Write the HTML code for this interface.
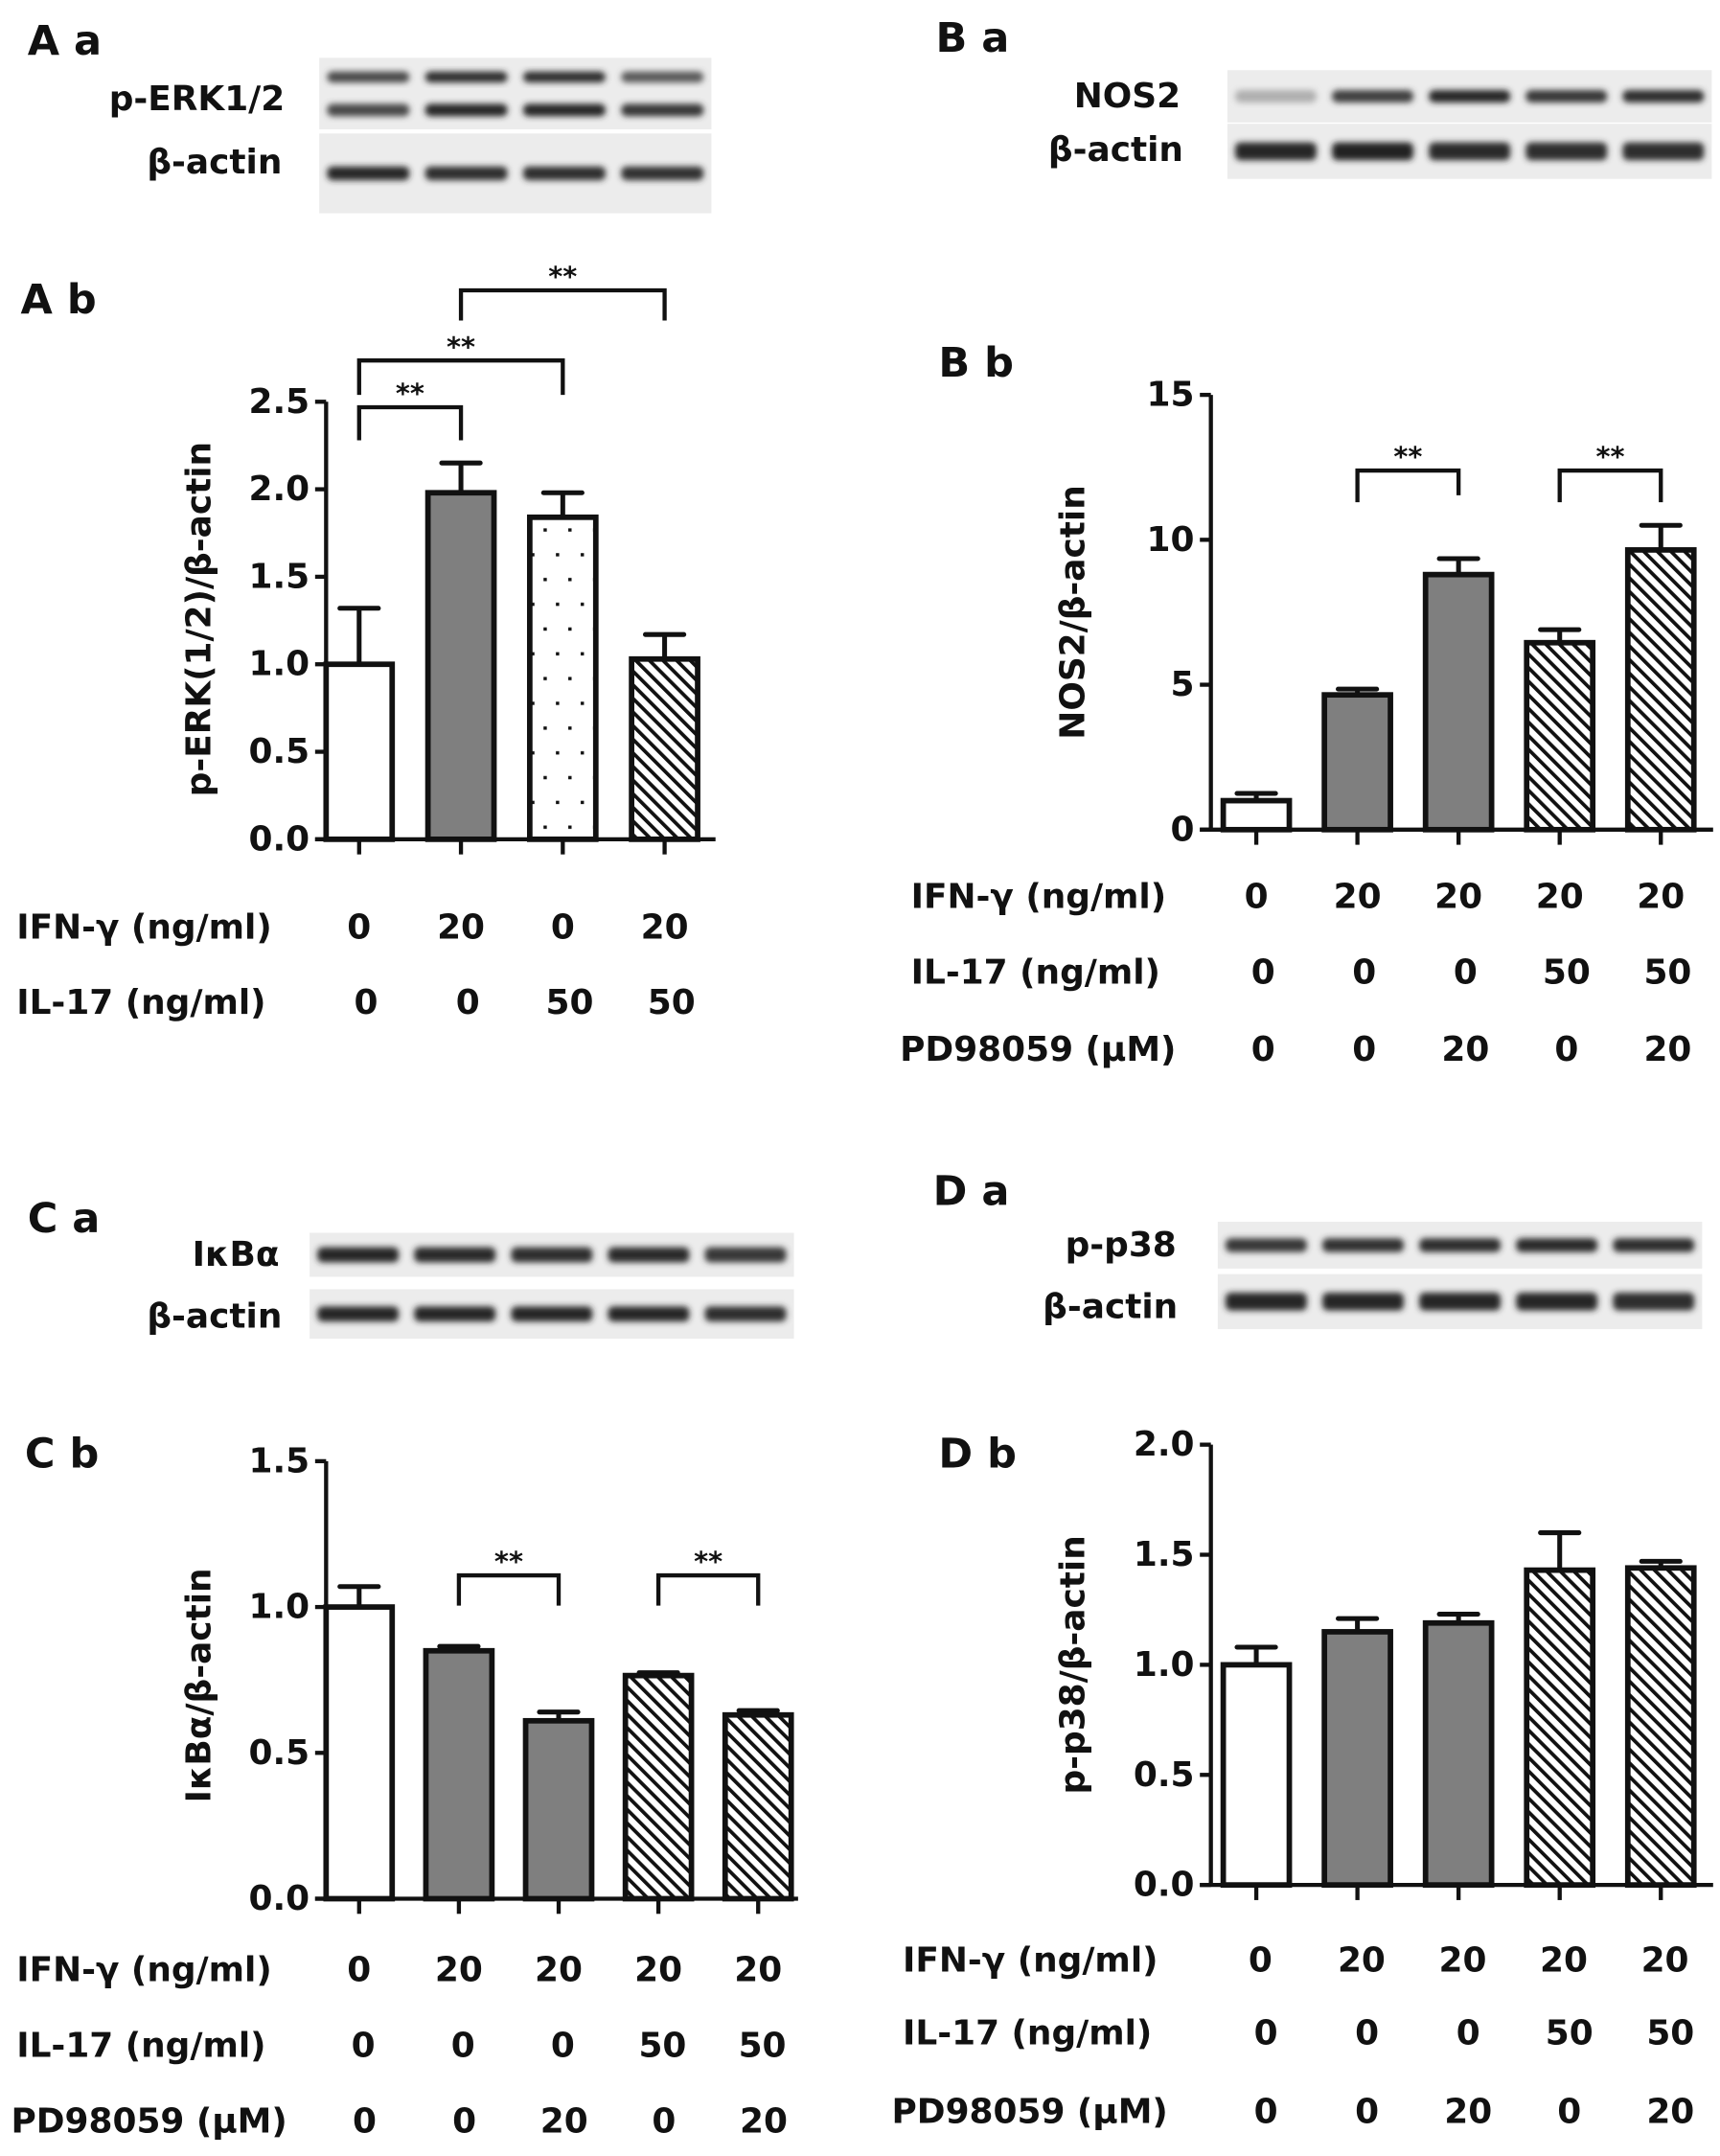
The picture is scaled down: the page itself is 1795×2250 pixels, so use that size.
<!DOCTYPE html>
<html><head><meta charset="utf-8"><style>
html,body{margin:0;padding:0;background:#fff;}
svg{display:block;}
text{font-family:"DejaVu Sans","Liberation Sans",Arial,sans-serif;font-weight:bold;fill:#111;}
</style></head><body>
<svg id="fig" width="1795" height="2250" viewBox="0 0 1250 1567" preserveAspectRatio="none" xmlns="http://www.w3.org/2000/svg">
<defs>
<pattern id="hatch" patternUnits="userSpaceOnUse" width="7" height="7" patternTransform="rotate(-45)">
<rect width="7" height="7" fill="#fff"/><rect x="0" y="0" width="2.6" height="7" fill="#111"/>
</pattern>
<pattern id="dots" patternUnits="userSpaceOnUse" width="18" height="36">
<rect width="18" height="36" fill="#fff"/><rect x="8" y="6" width="2.4" height="2.4" fill="#111"/><rect x="-1" y="24" width="2.4" height="2.4" fill="#111"/><rect x="17" y="24" width="2.4" height="2.4" fill="#111"/>
</pattern>
<filter id="blur" x="-10%" y="-50%" width="120%" height="200%"><feGaussianBlur stdDeviation="2.2"/></filter>
</defs>
<g id="root"></g>
</svg>
<script>
// ---- Panel A data ----
var aValues = [1.0, 1.98, 1.84, 1.03];
var aErrors = [0.32, 0.17, 0.14, 0.14];
var aFills = ['white','gray','dots','hatch'];
var aTicks = ['0.0','0.5','1.0','1.5','2.0','2.5'];
var aIFN = ['0','20','0','20'];
var aIL17 = ['0','0','50','50'];
// ---- Panel B data ----
var bValues = [1.0, 4.65, 8.8, 6.45, 9.65];
var bErrors = [0.25, 0.2, 0.55, 0.45, 0.85];
var bFills = ['white','gray','gray','hatch','hatch'];
var bTicks = ['0','5','10','15'];
var bIFN = ['0','20','20','20','20'];
var bIL17 = ['0','0','0','50','50'];
var bPD = ['0','0','20','0','20'];
// ---- Panel C data ----
var cValues = [1.0, 0.85, 0.61, 0.765, 0.63];
var cErrors = [0.07, 0.015, 0.03, 0.01, 0.015];
var cFills = ['white','gray','gray','hatch','hatch'];
var cTicks = ['0.0','0.5','1.0','1.5'];
var cIFN = ['0','20','20','20','20'];
var cIL17 = ['0','0','0','50','50'];
var cPD = ['0','0','20','0','20'];
// ---- Panel D data ----
var dValues = [1.0, 1.15, 1.19, 1.43, 1.44];
var dErrors = [0.08, 0.06, 0.04, 0.17, 0.03];
var dFills = ['white','gray','gray','hatch','hatch'];
var dTicks = ['0.0','0.5','1.0','1.5','2.0'];
var dIFN = ['0','20','20','20','20'];
var dIL17 = ['0','0','0','50','50'];
var dPD = ['0','0','20','0','20'];

var SVGNS='http://www.w3.org/2000/svg';
var rootG=document.getElementById('root');
function mk(tag,attrs,parent,txt){
  var e=document.createElementNS(SVGNS,tag);
  var keys=Object.keys(attrs);
  for(var j=0;j<keys.length;j++){e.setAttribute(keys[j],String(attrs[keys[j]]));}
  if(txt!==undefined){e.textContent=txt;}
  (parent||rootG).appendChild(e);
  return e;
}

function label(x,y,s,size,anchor,name){
  var t=mk('text',{x:x,y:y,'font-size':size,'text-anchor':anchor||'start','dominant-baseline':'central'},rootG,s);
  
  
  return t;
}

function blot(x,y,w,rows,name){
  var g=mk('g',{},rootG);
  
  
  for(var k=0;k<rows.length;k++){
    var r=rows[k];
    if(r.h>0){mk('rect',{x:x,y:r.y-r.h/2,width:w,height:r.h,fill:'#ececec'},g);}
    var n=r.lv.length, lw=w/n;
    for(var i=0;i<n;i++){
      var c=Math.round(200-170*r.lv[i]);
      mk('rect',{x:x+i*lw+lw*0.08,y:r.y+r.off-r.bh/2,width:lw*0.84,height:r.bh,rx:4,fill:'rgb('+c+','+c+','+c+')',filter:'url(#blur)'},g);
    }
  }
}

function chart(o){
  var g=mk('g',{},rootG);
  
  
  var ymax=parseFloat(o.ticks[o.ticks.length-1]);
  function Y(v){return o.y0-(v/ymax)*(o.y0-o.ytop);}
  function X(i){return o.x1+i*o.dx;}
  var ax=mk('line',{x1:o.ax,y1:o.ytop,x2:o.ax,y2:o.y0,stroke:'#111','stroke-width':3},g);
  
  
  var bx=mk('line',{x1:o.ax-8,y1:o.y0,x2:o.xend,y2:o.y0,stroke:'#111','stroke-width':3},g);
  
  
  o.ticks.forEach(function(t){
    var v=parseFloat(t);
    mk('line',{x1:o.ax-8,y1:Y(v),x2:o.ax,y2:Y(v),stroke:'#111','stroke-width':3},g);
    var tl=mk('text',{x:o.ax-12,y:Y(v),'font-size':25,'text-anchor':'end','dominant-baseline':'central'},g,t);
    
    
  });
  var yt=mk('text',{x:0,y:0,'font-size':25,'text-anchor':'middle','dominant-baseline':'central',transform:'translate('+o.titleX+','+o.titleY+') rotate(-90)'},g,o.title);
  
  
  var bw=48;
  o.values.forEach(function(v,i){
    var cx=X(i);
    mk('line',{x1:cx,y1:o.y0,x2:cx,y2:o.y0+11,stroke:'#111','stroke-width':3},g);
    var f=o.fills[i];
    var fill=f==='white'?'#fff':f==='gray'?'#7f7f7f':f==='dots'?'url(#dots)':'url(#hatch)';
    var top=Y(v+o.errors[i]);
    var eb=mk('path',{d:'M'+cx+','+Y(v)+' V'+top+' M'+(cx-14)+','+top+' H'+(cx+14),stroke:'#111','stroke-width':3.5,fill:'none','stroke-linecap':'round'},g);
    
    
    var b=mk('rect',{x:cx-bw/2,y:Y(v),width:bw,height:o.y0-Y(v),fill:fill,stroke:'#111','stroke-width':4},g);
    
    
  });
  (o.brackets||[]).forEach(function(br){
    var xa=X(br[0]),xb=X(br[1]);
    var p=mk('path',{d:'M'+xa+','+br[3]+' V'+br[2]+' H'+xb+' V'+br[4],stroke:'#111','stroke-width':3,fill:'none'},g);
    
    
    var s=mk('text',{x:(xa+xb)/2,y:br[2]-10,'font-size':20,'text-anchor':'middle','dominant-baseline':'central'},g,'**');
    
    
  });
  o.rows.forEach(function(r){
    var t=mk('text',{x:r.lx,y:r.y,'font-size':25,'text-anchor':'start','dominant-baseline':'central'},g,r.label);
    
    
    r.vals.forEach(function(s,i){
      var tv=mk('text',{x:X(i)+(r.shift||0),y:r.y,'font-size':25,'text-anchor':'middle','dominant-baseline':'central'},g,s);
      
      
    });
  });
}

function safe(fn){try{fn();}catch(e){if(window.console)console.log(e);}}

// ---- Panel A ----
safe(function(){label(20,30,'A a',30,'start','panel-label-aa');});
safe(function(){blot(232,42,285,[{y:68,h:52,bh:8,off:-12,lv:[0.75,0.9,0.9,0.65]},{y:68,h:0,bh:9,off:12,lv:[0.75,0.95,0.95,0.85]},{y:126,h:58,bh:10,off:0,lv:[0.95,0.9,0.9,0.88]}],'blot-a');});
safe(function(){label(207,72,'p-ERK1/2',25,'end','blot-label-perk');
label(205,118,'β-actin',25,'end','blot-label-actin-a');
label(15,218,'A b',30,'start','panel-label-ab');});
safe(function(){chart({name:'chart-a',ax:237,ytop:292,y0:610,xend:520,x1:261,dx:74,values:aValues,errors:aErrors,fills:aFills,ticks:aTicks,
 title:'p-ERK(1/2)/β-actin',titleX:145,titleY:450,
 brackets:[[0,1,296,320,320],[0,2,262,287,287],[1,3,211,233,233]],
 rows:[{label:'IFN-γ (ng/ml)',lx:12,y:674,vals:aIFN},{label:'IL-17 (ng/ml)',lx:12,y:729,vals:aIL17,shift:5}]});});

// ---- Panel B ----
safe(function(){label(680,28,'B a',30,'start','panel-label-ba');
blot(892,50,352,[{y:70,h:38,bh:9,off:0,lv:[0.15,0.8,0.95,0.85,0.9]},{y:110,h:40,bh:13,off:0,lv:[0.95,0.97,0.92,0.9,0.9]}],'blot-b');
label(858,70,'NOS2',25,'end','blot-label-nos2');
label(860,109,'β-actin',25,'end','blot-label-actin-b');
label(682,264,'B b',30,'start','panel-label-bb');});
safe(function(){chart({name:'chart-b',ax:880,ytop:287,y0:603,xend:1245,x1:913,dx:73.5,values:bValues,errors:bErrors,fills:bFills,ticks:bTicks,
 title:'NOS2/β-actin',titleX:780,titleY:445,
 brackets:[[1,2,342,365,360],[3,4,342,365,365]],
 rows:[{label:'IFN-γ (ng/ml)',lx:662,y:652,vals:bIFN},{label:'IL-17 (ng/ml)',lx:662,y:707,vals:bIL17,shift:5},{label:'PD98059 (μM)',lx:654,y:763,vals:bPD,shift:5}]});});

// ---- Panel C ----
safe(function(){label(20,886,'C a',30,'start','panel-label-ca');
blot(225,895,352,[{y:912,h:32,bh:11,off:0,lv:[0.95,0.92,0.9,0.92,0.85]},{y:955,h:36,bh:11,off:0,lv:[0.95,0.95,0.95,0.95,0.9]}],'blot-c');
label(203,912,'IκBα',25,'end','blot-label-ikba');
label(205,957,'β-actin',25,'end','blot-label-actin-c');
label(18,1057,'C b',30,'start','panel-label-cb');});
safe(function(){chart({name:'chart-c',ax:237,ytop:1062,y0:1380,xend:580,x1:261,dx:72.5,values:cValues,errors:cErrors,fills:cFills,ticks:cTicks,
 title:'IκBα/β-actin',titleX:145,titleY:1225,
 brackets:[[1,2,1145,1167,1167],[3,4,1145,1167,1167]],
 rows:[{label:'IFN-γ (ng/ml)',lx:12,y:1432,vals:cIFN},{label:'IL-17 (ng/ml)',lx:12,y:1487,vals:cIL17,shift:3},{label:'PD98059 (μM)',lx:8,y:1542,vals:cPD,shift:4}]});});

// ---- Panel D ----
safe(function(){label(678,866,'D a',30,'start','panel-label-da');
blot(885,888,352,[{y:905,h:34,bh:10,off:0,lv:[0.85,0.88,0.9,0.92,0.9]},{y:946,h:40,bh:13,off:0,lv:[0.95,0.95,0.95,0.95,0.9]}],'blot-d');
label(855,905,'p-p38',25,'end','blot-label-pp38');
label(856,950,'β-actin',25,'end','blot-label-actin-d');
label(682,1057,'D b',30,'start','panel-label-db');});
safe(function(){chart({name:'chart-d',ax:880,ytop:1050,y0:1370,xend:1245,x1:913,dx:73.5,values:dValues,errors:dErrors,fills:dFills,ticks:dTicks,
 title:'p-p38/β-actin',titleX:780,titleY:1210,
 rows:[{label:'IFN-γ (ng/ml)',lx:656,y:1425,vals:dIFN,shift:3},{label:'IL-17 (ng/ml)',lx:656,y:1478,vals:dIL17,shift:7},{label:'PD98059 (μM)',lx:648,y:1535,vals:dPD,shift:7}]});});
</script>
</body></html>
